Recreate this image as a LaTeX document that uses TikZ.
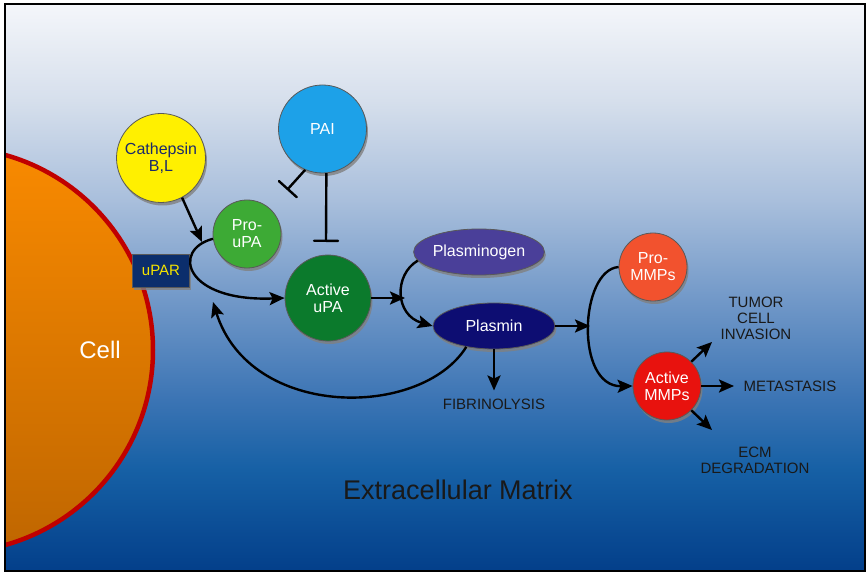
\documentclass[tikz,border=0pt]{standalone}
\usepackage{fontspec}
\setmainfont{Liberation Sans}
\usetikzlibrary{arrows.meta,shapes.geometric,shadows}

\definecolor{bgA}{HTML}{F4F6FA}
\definecolor{bgB}{HTML}{D6DFEC}
\definecolor{bgC}{HTML}{A9BFDC}
\definecolor{bgD}{HTML}{7198C8}
\definecolor{bgE}{HTML}{3B74B4}
\definecolor{bgF}{HTML}{1660A5}
\definecolor{bgG}{HTML}{033F8A}
\definecolor{cellA}{HTML}{F98A00}
\definecolor{cellB}{HTML}{BF6600}
\definecolor{cellrim}{HTML}{C00000}
\definecolor{cathY}{HTML}{FFF000}
\definecolor{cathT}{HTML}{1B2A6B}
\definecolor{paiC}{HTML}{1DA1E8}
\definecolor{prouC}{HTML}{3DAA35}
\definecolor{actuC}{HTML}{0B7A2C}
\definecolor{plgC}{HTML}{4A3F99}
\definecolor{plmC}{HTML}{0D0D72}
\definecolor{prommC}{HTML}{F2522E}
\definecolor{actmmC}{HTML}{E8120E}
\definecolor{uparC}{HTML}{0B2E6C}
\definecolor{uparT}{HTML}{F5E400}
\pgfdeclareverticalshading{ecmshade}{100bp}{color(0bp)=(bgG); color(25bp)=(bgG); color(33.9bp)=(bgF); color(40.1bp)=(bgE); color(48.9bp)=(bgD); color(57.7bp)=(bgC); color(66.5bp)=(bgB); color(75bp)=(bgA); color(100bp)=(bgA)}

\tikzset{
  castshadow/.style={drop shadow={shadow xshift=1.5pt,shadow yshift=-3pt,fill=black!50,opacity=.8}},
  mol/.style={circle,draw=black!65,line width=.8pt,text=white,align=center,inner sep=0pt,
    font=\fontsize{16}{17}\selectfont,castshadow},
  oval/.style={mol,ellipse,minimum width=122pt,minimum height=46pt},
  outcome/.style={text=black!90,align=center,font=\fontsize{15}{16}\selectfont,inner sep=8pt},
  act/.style={line width=2.4pt,-{Stealth[length=15pt,width=13pt,inset=3pt]}},
  inh/.style={line width=2.4pt,-{Bar[width=24pt,round]}}
}

\begin{document}
\begin{tikzpicture}[x=1pt,y=-1pt]
  \useasboundingbox (0,0) rectangle (868,572);
  \fill[white] (0,0) rectangle (868,572);
  \fill[shading=ecmshade] (5,4) rectangle (865,571);
  \begin{scope}
    \clip (5,4) rectangle (865,571);
    \shadedraw[top color=cellA,bottom color=cellB,draw=cellrim,line width=4.5pt] (-49.5,350) circle[radius=202.5];
  \end{scope}
  \draw[line width=2pt] (5,4) rectangle (865,571);

  \node[text=white,font=\fontsize{24}{28}\selectfont] (cell) at (100,350) {Cell};
  \node[mol,fill=cathY,text=cathT,minimum size=89pt] (cath) at (161,158) {Cathepsin\\B,L};
  \node[mol,fill=paiC,minimum size=88pt] (pai) at (322.5,129) {PAI};
  \node[mol,fill=prouC,minimum size=68pt] (prou) at (247,234) {Pro-\\uPA};
  \node[mol,fill=actuC,minimum size=86pt] (actu) at (328,298) {Active\\uPA};
  \node[draw=black!65,fill=uparC,text=uparT,minimum width=57pt,minimum height=33pt,inner sep=0pt,
    font=\fontsize{15}{16}\selectfont,castshadow] (upar) at (161,270.5) {uPAR};
  \node[oval,fill=plgC] (plg) at (479,252) {Plasminogen};
  \node[oval,fill=plmC] (plm) at (494,326) {Plasmin};
  \node[mol,fill=prommC,minimum size=68pt] (promm) at (653,267) {Pro-\\MMPs};
  \node[mol,fill=actmmC,minimum size=68pt] (actmm) at (667,386) {Active\\MMPs};

  \node[outcome] (fib) at (494,404) {FIBRINOLYSIS};
  \node[outcome] (inv) at (756,318) {TUMOR\\CELL\\INVASION};
  \node[outcome] (met) at (790,386) {METASTASIS};
  \node[outcome] (ecm) at (755,460) {ECM\\DEGRADATION};
  \node[text=black!90,font=\fontsize{27}{30}\selectfont] (ecmx) at (458,490) {Extracellular Matrix};

  \coordinate (cathend) at (202,242);
  \coordinate (uparback) at (213,302);
  \coordinate (fork1) at (405,298);
  \coordinate (fork2) at (590,326);
  \coordinate (barprou) at (287,190);
  \coordinate (baractu) at (326,242);
  \coordinate (toinv) at (712,342);
  \coordinate (tomet) at (734,386);
  \coordinate (toecm) at (712,430);

  \draw[act] (cath.-62) -- (cathend);
  \draw[act] (prou.188) .. controls +(-42,11) and +(-100,4) .. (actu.west);
  \draw[act] (plm.217) .. controls +(-45,72) and +(37,118) .. (uparback);
  \draw[act] (actu.east) -- (fork1);
  \draw[act] (plg.188) .. controls +(-24,14) and +(-38,-11) .. (plm.west);
  \draw[act] (plm.east) -- (fork2);
  \draw[act] (promm.west) .. controls +(-39,3) and +(-58,1) .. (actmm.west);
  \draw[act] (plm.south) -- (fib.north);
  \draw[act] (actmm.45) -- (toinv);
  \draw[act] (actmm.east) -- (tomet);
  \draw[act] (actmm.-45) -- (toecm);
  \draw[inh] (pai.247) -- (barprou);
  \draw[inh] (pai.-85) -- (baractu);
\end{tikzpicture}
\end{document}
